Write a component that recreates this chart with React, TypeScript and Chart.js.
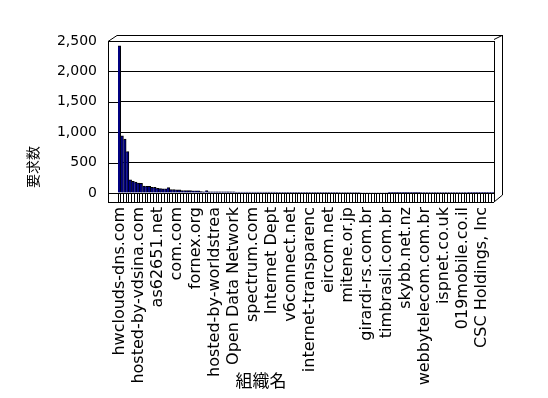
import React, { useEffect, useRef } from "react";
import { Chart, registerables } from "chart.js";

Chart.register(...registerables);

// Organisation labels that are visible on the axis (every 7th category)
const tickLabels: string[] = [
  "hwclouds-dns.com",
  "hosted-by-vdsina.com",
  "as62651.net",
  "com.com",
  "fornex.org",
  "hosted-by-worldstrea",
  "Open Data Network",
  "spectrum.com",
  "Internet Dept",
  "v6connect.net",
  "internet-transparenc",
  "eircom.net",
  "mitene.or.jp",
  "girardi-rs.com.br",
  "timbrasil.com.br",
  "skybb.net.nz",
  "webbytelecom.com.br",
  "ispnet.co.uk",
  "019mobile.co.il",
  "CSC Holdings, Inc",
];

const labelEvery = 7;

// Request counts per organisation (138 organisations)
const requestCounts: number[] = [
  2420, 940, 885, 680, 215, 190, 180, 165, 160, 112,
  110, 108, 95, 92, 75, 72, 70, 68, 88, 56,
  55, 53, 52, 40, 40, 38, 38, 37, 36, 35,
  22, 21, 40, 20, 20, 20, 20, 19, 19, 19,
  18, 18, 18, 17, 17, 17, 16, 16, 16, 16,
  15, 15, 15, 15, 14, 14, 14, 14, 13, 13,
  13, 13, 13, 12, 12, 12, 12, 12, 11, 11,
  11, 11, 11, 11, 10, 10, 10, 10, 10, 10,
  10, 9, 9, 9, 9, 9, 9, 9, 9, 8,
  8, 8, 8, 8, 8, 8, 8, 8, 8, 7,
  7, 7, 7, 7, 7, 7, 7, 7, 7, 7,
  7, 6, 6, 6, 6, 6, 6, 6, 6, 6,
  6, 6, 6, 6, 6, 6, 6, 6, 5, 5,
  5, 5, 5, 5, 5, 5, 5, 5,
];

const yTicks: number[] = [0, 500, 1000, 1500, 2000, 2500];

const yTitle = "要求数";
const xTitle = "組織名";

const categories: string[] = requestCounts.map((_, i) =>
  i % labelEvery === 0 && tickLabels[i / labelEvery] !== undefined
    ? tickLabels[i / labelEvery]
    : ""
);

const FONT = '"DejaVu Sans", "Noto Sans CJK JP", sans-serif';
const CJK = '"Noto Sans CJK JP", sans-serif';

const framePlugin = {
  id: "frame3d",
  afterDraw(chart: any) {
    const { ctx, chartArea } = chart;
    const { left: L, right: R, top: T, bottom: B } = chartArea;
    const y = chart.scales.y;
    ctx.save();
    ctx.strokeStyle = "#000";
    ctx.lineWidth = 1;
    const px = (v: number) => Math.round(v) + 0.5;
    ctx.beginPath();
    // side wall gridline extensions
    yTicks.forEach((t) => {
      const yy = px(y.getPixelForValue(t));
      ctx.moveTo(L - 10, yy);
      ctx.lineTo(L, yy);
    });
    // left front edge
    ctx.moveTo(px(L - 10), T);
    ctx.lineTo(px(L - 10), B + 9);
    // floor front edge
    ctx.moveTo(L - 10, px(B + 9));
    ctx.lineTo(R, px(B + 9));
    // top-left diagonal & back top
    ctx.moveTo(L - 10, px(T));
    ctx.lineTo(L - 1, px(T - 6));
    ctx.lineTo(R + 8, px(T - 6));
    // right back edge
    ctx.moveTo(px(R + 8), T - 6);
    ctx.lineTo(px(R + 8), B + 2);
    ctx.lineTo(R, B + 9);
    // right front edge
    ctx.moveTo(px(R), T);
    ctx.lineTo(px(R), B + 9);
    ctx.moveTo(R, px(T - 2));
    ctx.lineTo(R + 8, px(T - 6));
    ctx.stroke();

    // axis titles
    ctx.fillStyle = "#000";
    ctx.textAlign = "center";
    ctx.textBaseline = "middle";
    ctx.font = `14px ${CJK}`;
    ctx.save();
    ctx.translate(L - 85, T + 126);
    ctx.rotate(-Math.PI / 2);
    ctx.fillText(yTitle, 0, 0);
    ctx.restore();
    ctx.font = `17px ${CJK}`;
    ctx.fillText(xTitle, L + 143, B + 188);
    ctx.restore();
  },
};

export default function App() {
  const canvasRef = useRef<HTMLCanvasElement | null>(null);

  useEffect(() => {
    if (!canvasRef.current) return;
    const chart = new Chart(canvasRef.current, {
      type: "bar",
      data: {
        labels: categories,
        datasets: [
          {
            data: requestCounts,
            backgroundColor: "#000080",
            borderColor: "#000000",
            borderWidth: { top: 1, right: 1, left: 0, bottom: 0 } as any,
            borderSkipped: false,
            categoryPercentage: 1,
            barPercentage: 1,
          },
        ],
      },
      options: {
        animation: false,
        responsive: false,
        layout: { padding: { top: 41, right: 54, left: 0, bottom: 0 } },
        plugins: {
          legend: { display: false },
          tooltip: { enabled: false },
          title: { display: false },
        },
        scales: {
          x: {
            type: "category",
            offset: true,
            afterFit: (s: any) => {
              s.height = 205;
            },
            grid: {
              display: true,
              drawOnChartArea: false,
              drawTicks: true,
              tickLength: 9,
              color: "#000",
              offset: true,
            },
            border: { display: true, color: "#000" },
            ticks: {
              autoSkip: false,
              maxRotation: 90,
              minRotation: 90,
              padding: 5,
              color: "#000",
              font: { family: FONT, size: 16 },
              callback: (_v: any, i: number) => categories[i],
            },
          },
          y: {
            min: 0,
            max: 2500,
            afterFit: (s: any) => {
              s.width = 118;
            },
            afterBuildTicks: (s: any) => {
              s.ticks = yTicks.map((v) => ({ value: v }));
            },
            grid: { color: "#000", drawTicks: false },
            border: { display: false },
            ticks: {
              padding: 21,
              color: "#000",
              font: { family: FONT, size: 14 },
              callback: (v: any) => Number(v).toLocaleString("en-US"),
            },
          },
        },
      },
      plugins: [framePlugin],
    });
    return () => chart.destroy();
  }, []);

  return (
    <div style={{ position: "absolute", left: 0, top: 0, width: 548, height: 398, background: "#fff" }}>
      <canvas ref={canvasRef} width={548} height={398} style={{ display: "block" }} />
    </div>
  );
}
